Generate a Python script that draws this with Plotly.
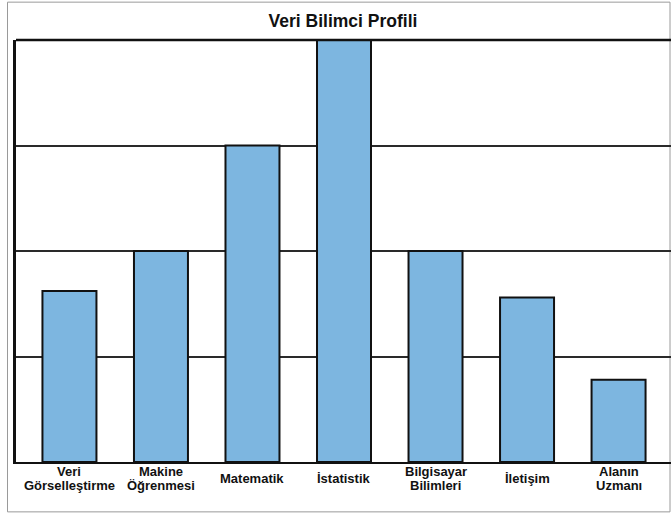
import plotly.graph_objects as go

# Skill areas of a data scientist and their relative weight
categories = [
    "Veri<br>Görselleştirme",
    "Makine<br>Öğrenmesi",
    "Matematik",
    "İstatistik",
    "Bilgisayar<br>Bilimleri",
    "İletişim",
    "Alanın<br>Uzmanı",
]
values = [1.62, 2.0, 3.0, 4.0, 2.0, 1.56, 0.78]
y_ticks = [0, 1, 2, 3, 4]

W, H = 671, 514
ML, MR, MT, MB = 15.5, 0, 40.3, 52.3
plot_w = W - ML - MR
plot_h = H - MT - MB

FONT = "Liberation Sans, Arial, sans-serif"
BAR_FILL = "#7db6e0"
INK = "#111111"

fig = go.Figure(
    go.Bar(
        x=categories,
        y=values,
        width=0.59,
        marker=dict(color=BAR_FILL, line=dict(color=INK, width=2)),
        hoverinfo="x+y",
    )
)

# Category labels: one annotation per text line, stacked compactly
LABEL_MID = -16.4
LABEL_STEP = 14.8
annotations = []
for cat in categories:
    lines = cat.split("<br>")
    n = len(lines)
    for i, line in enumerate(lines):
        dy = LABEL_MID - (i - (n - 1) / 2) * LABEL_STEP
        annotations.append(
            dict(
                x=cat, xref="x", y=0, yref="paper",
                text=line, showarrow=False,
                xanchor="center", yanchor="middle", yshift=dy,
                font=dict(family=FONT, size=13, color=INK, weight="bold"),
            )
        )

# Thin grey frame around the whole chart
def px_x(p):
    return (p - ML) / plot_w

def px_y(p):
    return (H - MB - p) / plot_h

shapes = [
    dict(
        type="rect", xref="paper", yref="paper",
        x0=px_x(7), x1=px_x(670), y0=px_y(511.5), y1=px_y(2.5),
        line=dict(color="#9a9a9a", width=1), fillcolor="rgba(0,0,0,0)",
        layer="below",
    ),
    # top edge of the plotting area
    dict(
        type="line", xref="paper", yref="paper",
        x0=0, x1=1, y0=1, y1=1,
        line=dict(color=INK, width=2.5),
    ),
]

fig.update_layout(
    width=W, height=H,
    margin=dict(l=ML, r=MR, t=MT, b=MB, pad=0),
    paper_bgcolor="white", plot_bgcolor="white",
    showlegend=False,
    title=dict(
        text="Veri Bilimci Profili",
        x=343 / W, xanchor="center", xref="container",
        y=1 - 21 / H, yanchor="middle", yref="container",
        font=dict(family=FONT, size=17.5, color=INK, weight="bold"),
    ),
    xaxis=dict(
        type="category",
        range=[-0.584, 6.573],
        showticklabels=False, ticks="",
        showgrid=False, zeroline=False,
        showline=True, linecolor=INK, linewidth=2,
    ),
    yaxis=dict(
        range=[0, 4],
        tickvals=y_ticks,
        showticklabels=False, ticks="",
        showgrid=True, gridcolor="#2a2a2a", gridwidth=2,
        zeroline=False,
        showline=True, linecolor=INK, linewidth=2.5,
    ),
    annotations=annotations,
    shapes=shapes,
    bargap=0.4,
)

fig.write_html("out.html")
